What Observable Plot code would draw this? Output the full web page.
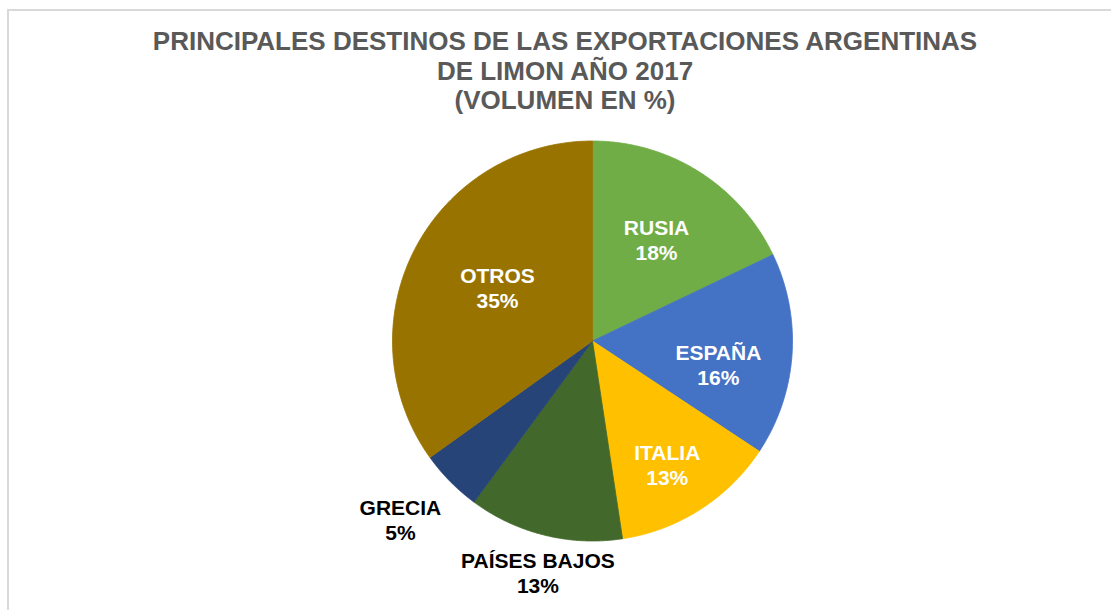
<!DOCTYPE html>
<html>
<head>
<meta charset="utf-8">
<script src="https://cdn.jsdelivr.net/npm/d3@7"></script>
<script src="https://cdn.jsdelivr.net/npm/@observablehq/plot@0.6"></script>
<style>
  html, body { margin: 0; padding: 0; background: #fff; }
  #wrap { position: relative; width: 1111px; height: 610px; overflow: hidden; font-family: "Liberation Sans", Arial, sans-serif; }
  #frame { position: absolute; left: 7px; top: 9px; right: -4px; bottom: -4px; border-top: 2px solid #d9d9d9; border-left: 2px solid #d9d9d9; }
  #title { position: absolute; left: 0; width: 1130px; top: 27px; text-align: center; font-size: 26px; font-weight: bold; color: #595959; line-height: 29.5px; }
  #chart { position: absolute; left: 0; top: 125px; }
</style>
</head>
<body>
<div id="wrap">
  <div id="frame"></div>
  <div id="title">PRINCIPALES DESTINOS DE LAS EXPORTACIONES ARGENTINAS<br>DE LIMON AÑO 2017<br>(VOLUMEN EN %)</div>
  <div id="chart"></div>
</div>
<script>
// ---- data ----
const categories = ["RUSIA", "ESPAÑA", "ITALIA", "PAÍSES BAJOS", "GRECIA", "OTROS"];
const volumePct = [17.9, 16.4, 13.3, 12.5, 5.0, 34.9];
const colors = ["#70AD47", "#4472C4", "#FFC000", "#43682B", "#264478", "#997300"];

// ---- label layout (radius as fraction of pie radius, angle tweak in degrees) ----
const labelRadius = [0.6, 0.64, 0.72, 1.19, 1.31, 0.545];
const labelAngleShift = [0, 6.5, 1.3, -0.6, 1.8, 2.2];

const arcs = d3.pie().sort(null).value(d => d)(volumePct);

const slicePts = [];
arcs.forEach((a, i) => {
  const name = categories[i];
  slicePts.push({name, x: 0, y: 0});
  const N = 120;
  for (let k = 0; k <= N; k++) {
    const t = a.startAngle + (a.endAngle - a.startAngle) * k / N;
    slicePts.push({name, x: Math.sin(t), y: Math.cos(t)});
  }
  slicePts.push({name, x: 0, y: 0});
});

const labels = arcs.map((a, i) => {
  const mid = (a.startAngle + a.endAngle) / 2 + labelAngleShift[i] * Math.PI / 180;
  const r = labelRadius[i];
  return {
    text: categories[i] + "\n" + Math.round(volumePct[i]) + "%",
    x: Math.sin(mid) * r,
    y: Math.cos(mid) * r,
    inside: r < 1
  };
});

const cx = 592, cy = 215.5, R = 200;
const textOpts = {
  x: "x", y: "y", text: "text",
  fontSize: 21, fontWeight: "bold",
  fontFamily: "Liberation Sans, Arial, sans-serif",
  lineHeight: 1.21, textAnchor: "middle"
};

const chart = Plot.plot({
  width: 1111,
  height: 485,
  margin: 0,
  x: {domain: [-1, 1], range: [cx - R, cx + R], axis: null},
  y: {domain: [-1, 1], range: [cy + R, cy - R], axis: null},
  color: {domain: categories, range: colors},
  style: {background: "transparent", overflow: "visible"},
  marks: [
    Plot.line(slicePts, {x: "x", y: "y", z: "name", fill: "name", stroke: "name", strokeWidth: 0.8, curve: "linear"}),
    Plot.text(labels.filter(d => d.inside), {...textOpts, fill: "white"}),
    Plot.text(labels.filter(d => !d.inside), {...textOpts, fill: "black"})
  ]
});
document.getElementById("chart").appendChild(chart);
</script>
</body>
</html>
